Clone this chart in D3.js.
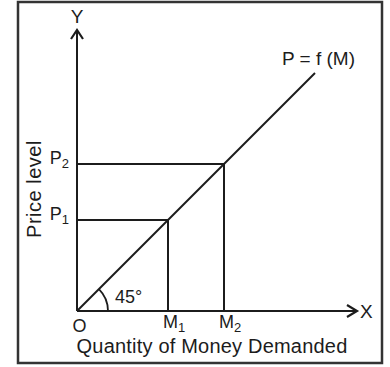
<!DOCTYPE html>
<html>
<head>
<meta charset="utf-8">
<script src="https://cdn.jsdelivr.net/npm/d3@7"></script>
<style>
  body { margin: 0; background: #fff; }
  svg { display: block; font-family: "Liberation Sans", Arial, sans-serif; }
</style>
</head>
<body>
<div id="chart"></div>
<script>
/* Money demand vs price level - 45 degree line */

// data
const curveM = [0, 238],   // ends of the P = f(M) line
    curveP = [0, 238];
const subs = ["1", "2"],   // M1 / M2, P1 / P2
    mLevels = [91, 147],
    pLevels = [91, 147];
const curveLabel = "P = f (M)",
    xTitle = "Quantity of Money Demanded",
    yTitle = "Price level",
    originLabel = "O",
    angleLabel = "45°";

const height = 367,
    width = 390,
    margin = ({ top: 30, right: 33, bottom: 56, left: 77 });

const ink = "#1c1c1c";

const svg = d3.select("#chart")
    .append("svg")
    .attr("width", width)
    .attr("height", height)
    .attr("viewBox", [0, 0, width, height]);

// 1 unit = 1px on both axes so the line sits at 45 deg
let x = d3.scaleLinear()
    .domain([0, width - margin.left - margin.right])
    .range([margin.left, width - margin.right]);

let y = d3.scaleLinear()
    .domain([0, height - margin.top - margin.bottom])
    .range([height - margin.bottom, margin.top]);

// outer frame
svg.append("rect")
    .attr("x", 18)
    .attr("y", 2)
    .attr("width", 364)
    .attr("height", 361)
    .attr("fill", "none")
    .attr("stroke", "#333")
    .attr("stroke-width", 2.5);

const x0 = x(0), y0 = y(0),
    xEnd = x.range()[1], yEnd = y.range()[1];

// axes
svg.append("path")
    .attr("d", `M${x0},${y0}V${yEnd}M${x0},${y0}H${xEnd}`)
    .attr("fill", "none")
    .attr("stroke", ink)
    .attr("stroke-width", 2);

// arrow heads (chevrons)
svg.append("path")
    .attr("d", `M${x0 - 6},${yEnd + 9}L${x0},${yEnd}L${x0 + 6},${yEnd + 9}` +
               `M${xEnd - 10},${y0 - 6}L${xEnd},${y0}L${xEnd - 10},${y0 + 6}`)
    .attr("fill", "none")
    .attr("stroke", ink)
    .attr("stroke-width", 2.2)
    .attr("stroke-linejoin", "miter");

// dropped lines
subs.forEach((s, i) => {
    svg.append("path")
        .attr("d", `M${x0},${y(pLevels[i])}H${x(mLevels[i])}V${y0}`)
        .attr("fill", "none")
        .attr("stroke", ink)
        .attr("stroke-width", 2);
});

// P = f(M)
let line = d3.line()
    .x(d => x(d[0]))
    .y(d => y(d[1]));

svg.append("path")
    .datum(d3.zip(curveM, curveP))
    .attr("d", line)
    .attr("fill", "none")
    .attr("stroke", ink)
    .attr("stroke-width", 2);

// 45 deg arc
const ang = Math.atan2(y0 - y(curveP[1]), x(curveM[1]) - x0);
svg.append("path")
    .attr("transform", `translate(${x0},${y0})`)
    .attr("d", d3.arc()({ innerRadius: 31, outerRadius: 31, startAngle: Math.PI / 2 - ang, endAngle: Math.PI / 2 }))
    .attr("fill", "none")
    .attr("stroke", ink)
    .attr("stroke-width", 1.8);

// text
const txt = (tx, ty, size, anchor) => svg.append("text")
    .attr("x", tx)
    .attr("y", ty)
    .attr("font-size", size)
    .attr("text-anchor", anchor)
    .attr("fill", ink);

txt(x0, 23, 19, "middle").text("Y");
txt(xEnd + 3, y0 + 7, 19, "start").text("X");
txt(x0 + 2.5, y0 + 21, 18, "middle").text(originLabel);
txt(x0 + 38, y0 - 8, 18, "start").text(angleLabel);
txt(x(curveM[1]) - 33, y(curveP[1]) - 8, 19, "start").text(curveLabel);

subs.forEach((s, i) => {
    let p = txt(x0 - 8, y(pLevels[i]), 18, "end");
    p.append("tspan").text("P");
    p.append("tspan").attr("font-size", 13).attr("dy", 4).text(s);

    let m = txt(x(mLevels[i]) - 5, y0 + 17, 18, "start");
    m.append("tspan").text("M");
    m.append("tspan").attr("font-size", 13).attr("dy", 4).text(s);
});

txt(212, 353, 20, "middle")
    .attr("letter-spacing", 0.2)
    .text(xTitle);

txt(0, 0, 20, "middle")
    .attr("transform", `translate(41,189) rotate(-90)`)
    .attr("letter-spacing", 0.5)
    .text(yTitle);
</script>
</body>
</html>
